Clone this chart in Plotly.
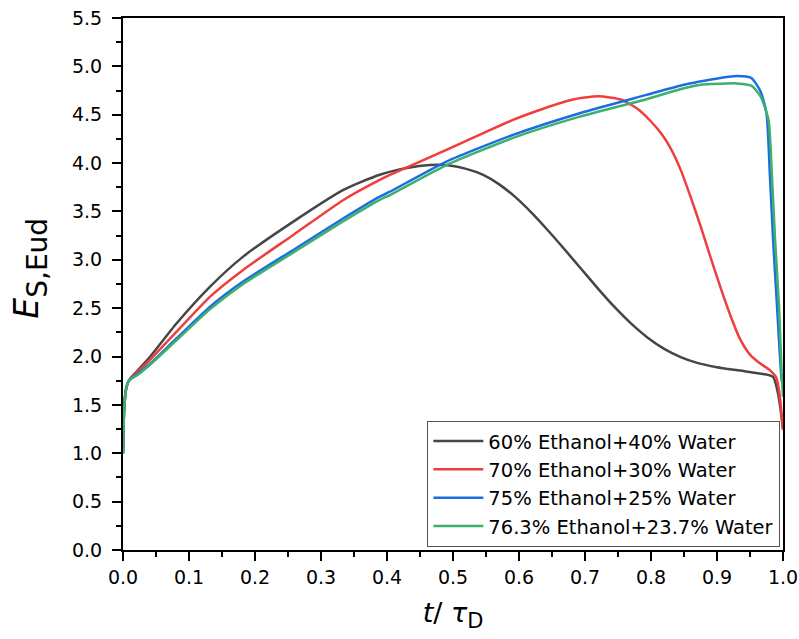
import plotly.graph_objects as go

# ---- data ----
t_60 = [0, 0.0005, 0.002, 0.0045, 0.008, 0.012, 0.02, 0.04, 0.0813, 0.132, 0.182, 0.258, 0.334,
        0.389, 0.43, 0.465, 0.495, 0.52, 0.545, 0.57, 0.595, 0.62, 0.645, 0.67, 0.695, 0.72,
        0.745, 0.77, 0.795, 0.82, 0.845, 0.87, 0.9, 0.935, 0.97, 0.985, 0.993, 1.0]
E_60 = [1.0, 1.2, 1.48, 1.66, 1.74, 1.78, 1.84, 1.99, 2.344, 2.723, 3.033, 3.395, 3.723,
        3.88, 3.95, 3.98, 3.975, 3.94, 3.88, 3.78, 3.645, 3.48, 3.295, 3.10, 2.90, 2.70,
        2.51, 2.34, 2.195, 2.08, 1.995, 1.935, 1.89, 1.855, 1.82, 1.79, 1.6, 1.25]

t_70 = [0, 0.0005, 0.002, 0.0045, 0.008, 0.012, 0.02, 0.04, 0.0813, 0.132, 0.182, 0.258, 0.334,
        0.389, 0.4045, 0.49, 0.591, 0.64, 0.68, 0.72, 0.755, 0.78, 0.80, 0.815, 0.83, 0.845,
        0.86, 0.875, 0.89, 0.905, 0.92, 0.935, 0.95, 0.965, 0.98, 0.99, 0.995, 1.0]
E_70 = [1.0, 1.2, 1.48, 1.66, 1.74, 1.78, 1.83, 1.96, 2.258, 2.62, 2.896, 3.257, 3.619,
        3.826, 3.877, 4.136, 4.447, 4.57, 4.655, 4.69, 4.655, 4.56, 4.43, 4.31, 4.15, 3.93,
        3.65, 3.35, 3.03, 2.72, 2.43, 2.18, 2.02, 1.93, 1.86, 1.78, 1.6, 1.24]

t_75 = [0, 0.0005, 0.002, 0.0045, 0.008, 0.012, 0.02, 0.04, 0.0813, 0.132, 0.182, 0.258, 0.334,
        0.389, 0.4045, 0.49, 0.591, 0.692, 0.793, 0.844, 0.874, 0.905, 0.93, 0.952, 0.966,
        0.975, 0.98, 0.985, 0.991, 0.998, 1.0]
E_75 = [1.0, 1.2, 1.48, 1.66, 1.74, 1.77, 1.81, 1.92, 2.189, 2.516, 2.775, 3.102, 3.43,
        3.654, 3.705, 4.016, 4.292, 4.516, 4.705, 4.80, 4.843, 4.88, 4.9, 4.88, 4.74,
        4.516, 3.895, 3.206, 2.516, 1.758, 1.7]

t_763 = [0, 0.0005, 0.002, 0.0045, 0.008, 0.012, 0.02, 0.04, 0.0813, 0.132, 0.182, 0.258, 0.334,
         0.389, 0.4045, 0.49, 0.591, 0.692, 0.793, 0.844, 0.874, 0.905, 0.93, 0.952, 0.966,
         0.978, 0.983, 0.988, 0.994, 0.998, 1.0]
E_763 = [1.0, 1.2, 1.48, 1.66, 1.74, 1.77, 1.80, 1.91, 2.17, 2.49, 2.75, 3.075, 3.40,
         3.62, 3.67, 3.98, 4.26, 4.48, 4.66, 4.764, 4.808, 4.82, 4.824, 4.80, 4.69,
         4.447, 3.895, 3.206, 2.516, 1.827, 1.585]

series_names = ["60% Ethanol+40% Water", "70% Ethanol+30% Water",
                "75% Ethanol+25% Water", "76.3% Ethanol+23.7% Water"]
series_t = [t_60, t_70, t_75, t_763]
series_E = [E_60, E_70, E_75, E_763]
series_colors = ["#464646", "#f03e3e", "#1c6ee0", "#3cb06c"]

x_ticks = [0.0, 0.1, 0.2, 0.3, 0.4, 0.5, 0.6, 0.7, 0.8, 0.9, 1.0]
y_ticks = [0.0, 0.5, 1.0, 1.5, 2.0, 2.5, 3.0, 3.5, 4.0, 4.5, 5.0, 5.5]

FONT = "DejaVu Sans, Arial, sans-serif"

fig = go.Figure()
for name, tx, ey, col in zip(series_names, series_t, series_E, series_colors):
    fig.add_trace(go.Scatter(x=tx, y=ey, mode="lines", name=name,
                             line=dict(color=col, width=2.5, shape="spline", smoothing=0.6)))

axis_common = dict(showgrid=False, zeroline=False, showline=True, linecolor="black",
                   linewidth=2, mirror=True, ticks="outside", ticklen=9, tickwidth=2,
                   tickcolor="black", ticklabeloverflow="allow", automargin=False,
                   tickfont=dict(family=FONT, size=19, color="black"))

fig.update_xaxes(range=[0, 1], tickvals=x_ticks, ticktext=[f"{v:.1f}" for v in x_ticks],
                 minor=dict(dtick=0.05, ticks="outside", ticklen=5, tickwidth=2, tickcolor="black"),
                 title=dict(text="<i>t</i>/ <i>τ</i><span style=\"font-size:30px\"><sub>D</sub></span>",
                            font=dict(family=FONT, size=27, color="black"), standoff=16),
                 **axis_common)
fig.update_yaxes(range=[0, 5.5], tickvals=y_ticks, ticktext=[f"{v:.1f}" for v in y_ticks],
                 ticklabelstandoff=6,
                 minor=dict(dtick=0.25, ticks="outside", ticklen=5, tickwidth=2, tickcolor="black"),
                 title=dict(text="&nbsp;&nbsp;&nbsp;<i>E</i><span style=\"font-size:40px\"><sub>S,Eud</sub></span>",
                            font=dict(family=FONT, size=33, color="black"), standoff=23),
                 **axis_common)

fig.update_layout(
    width=799, height=639,
    margin=dict(l=123, r=16, t=18, b=89),
    paper_bgcolor="white", plot_bgcolor="white",
    font=dict(family=FONT, color="black"),
    legend=dict(x=0.996, y=0.006, xanchor="right", yanchor="bottom",
                bgcolor="white", bordercolor="#555555", borderwidth=1,
                font=dict(family=FONT, size=19.5, color="black"),
                tracegroupgap=0, itemwidth=50),
    showlegend=True,
)

fig.write_html("out.html")
